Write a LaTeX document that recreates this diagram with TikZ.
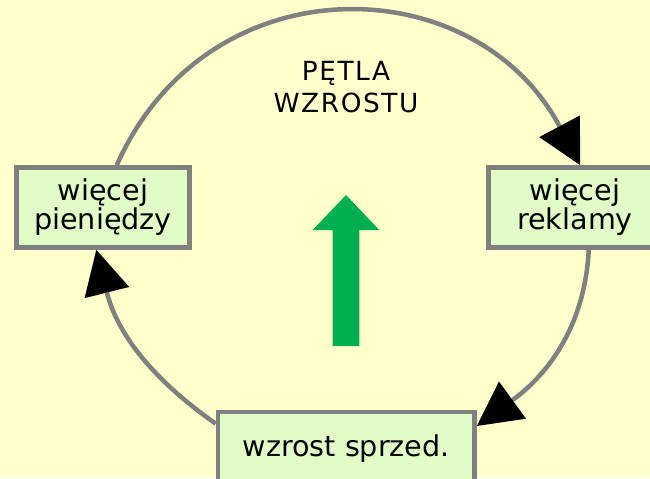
\documentclass[tikz,border=0pt]{standalone}
\usepackage{fontspec}
\setmainfont{DejaVu Sans}
\newfontfamily\titlefont[LetterSpace=6]{DejaVu Sans}
\usetikzlibrary{arrows.meta}

\definecolor{bgyellow}{RGB}{255,255,204}
\definecolor{boxgreen}{RGB}{226,252,200}
\definecolor{framegray}{RGB}{128,128,128}
\definecolor{upgreen}{RGB}{0,176,80}

\begin{document}
\begin{tikzpicture}[x=0.02cm,y=0.02cm,
  box/.style={draw=framegray,line width=0.095cm,fill=boxgreen,align=center,inner sep=0pt,
    minimum height=1.6cm,font=\fontsize{16.3}{16.5}\selectfont},
  cycleline/.style={draw=framegray,line width=0.09cm,
    -{Triangle[length=0.88cm,width=0.92cm,line width=0pt,color=black]}}]
\fill[bgyellow] (0,0) rectangle (650,-478);
\useasboundingbox (0,0) rectangle (650,-478);
\node[box,minimum width=3.45cm] (money) at (103,-207.5) {więcej\\pieniędzy};
\node[box,minimum width=3.45cm] (ads) at (575,-207.5) {więcej\\reklamy};
\node[box,minimum width=5.13cm,minimum height=1.48cm] (sales) at (346.3,-449) {wzrost sprzed.};
\node[font=\titlefont\fontsize{15}{18.6}\selectfont,align=center] (title) at (346,-87) {PĘTLA\\WZROSTU};
\fill[upgreen] (332.7,-346) -- (332.7,-230) -- (312.7,-230) -- (346,-195)
  -- (379.3,-230) -- (359.3,-230) -- (359.3,-346) -- cycle;
\draw[cycleline] (money.72) to[out=66,in=118,looseness=1.24] (ads.83);
\draw[cycleline] (ads.-72) to[out=-93,in=36] (sales.10);
\draw[cycleline] (sales.169) to[out=145,in=-76] (money.-99);
\end{tikzpicture}
\end{document}
